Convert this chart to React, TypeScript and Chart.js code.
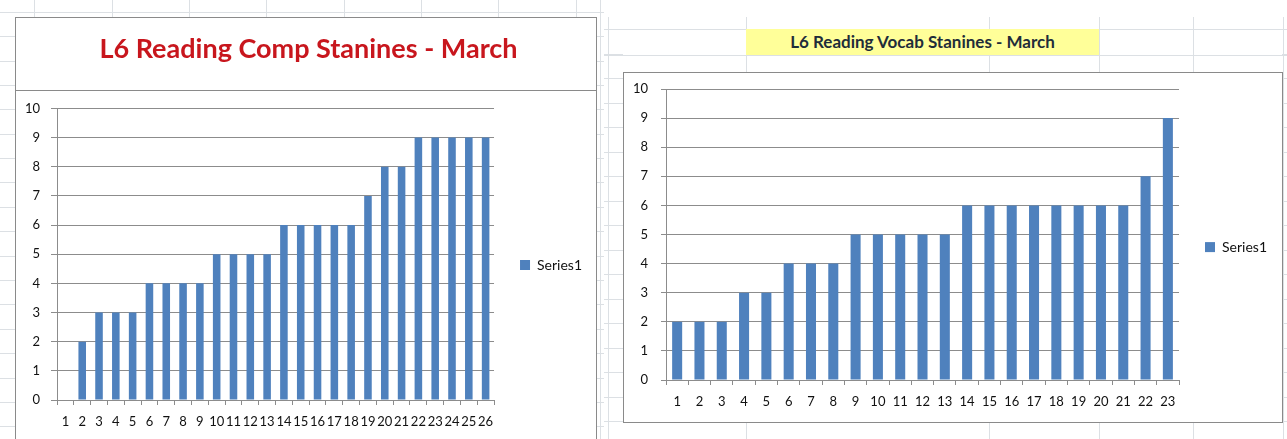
import React, { useEffect, useRef } from "react";
import { Chart, registerables } from "chart.js";

Chart.register(...registerables);

// ---------- data ----------
const compCategories = ["1", "2", "3", "4", "5", "6", "7", "8", "9", "10", "11", "12", "13", "14", "15", "16", "17", "18", "19", "20", "21", "22", "23", "24", "25", "26"];
const compStanines = [0, 2, 3, 3, 3, 4, 4, 4, 4, 5, 5, 5, 5, 6, 6, 6, 6, 6, 7, 8, 8, 9, 9, 9, 9, 9];

const vocabCategories = ["1", "2", "3", "4", "5", "6", "7", "8", "9", "10", "11", "12", "13", "14", "15", "16", "17", "18", "19", "20", "21", "22", "23"];
const vocabStanines = [2, 2, 2, 3, 3, 4, 4, 4, 5, 5, 5, 5, 5, 6, 6, 6, 6, 6, 6, 6, 6, 7, 9];

const yMin = 0;
const yMax = 10;
const yStep = 1;
const seriesLabel = "Series1";
const compTitle = "L6 Reading Comp Stanines - March";
const vocabTitle = "L6 Reading Vocab Stanines - March";

// ---------- styles ----------
const BAR = "#4F81BD";
const GRID = "#8C8C8C";
const TEXT = "#111111";
const FONT = "Lato, 'Open Sans', sans-serif";
const SHEET = "#DCE0E4";
const BOX = "#8A8A8A";

Chart.defaults.font.family = FONT;

type Lay = {
  pad: { left: number; right: number; top: number; bottom: number };
  yWidth: number;
  yTick: number;
  yPad: number;
  yLineHeight: number;
  xHeight: number;
  xPad: number;
  legendPad: number;
  legendShiftFont: number;
  title?: { text: string; size: number; color: string; top: number; bottom: number };
};

function buildConfig(labels: string[], values: number[], L: Lay): any {
  return {
    type: "bar",
    data: {
      labels,
      datasets: [
        {
          label: seriesLabel,
          data: values,
          backgroundColor: BAR,
          borderWidth: 0,
          barPercentage: 0.45,
          categoryPercentage: 1,
        },
      ],
    },
    options: {
      responsive: false,
      animation: false,
      layout: { padding: L.pad },
      plugins: {
        tooltip: { enabled: false },
        title: L.title
          ? {
              display: true,
              text: L.title.text,
              color: L.title.color,
              font: { family: FONT, size: L.title.size, weight: "bold" },
              padding: { top: L.title.top, bottom: L.title.bottom },
            }
          : { display: false },
        legend: {
          display: true,
          position: "right",
          align: "center",
          fullSize: false,
          title: {
            display: true,
            text: " ",
            padding: 0,
            font: { size: L.legendShiftFont },
          },
          labels: {
            boxWidth: 10,
            boxHeight: 10,
            padding: L.legendPad,
            color: TEXT,
            font: { family: FONT, size: 14 },
          },
        },
      },
      scales: {
        x: {
          grid: {
            offset: true,
            drawOnChartArea: false,
            color: GRID,
            tickLength: 5,
          },
          border: { color: GRID, width: 1 },
          ticks: {
            color: TEXT,
            font: { family: FONT, size: 13 },
            padding: L.xPad,
            autoSkip: false,
            maxRotation: 0,
            minRotation: 0,
          },
          afterFit: (s: any) => {
            s.height = L.xHeight;
          },
        },
        y: {
          min: yMin,
          max: yMax,
          grid: { color: GRID, tickLength: L.yTick },
          border: { color: GRID, width: 1 },
          ticks: {
            stepSize: yStep,
            color: TEXT,
            font: { family: FONT, size: 13, lineHeight: L.yLineHeight },
            padding: L.yPad,
          },
          afterFit: (s: any) => {
            s.width = L.yWidth;
          },
        },
      },
    },
  };
}

function BarChart(props: {
  labels: string[];
  values: number[];
  lay: Lay;
  left: number;
  top: number;
  width: number;
  height: number;
}) {
  const ref = useRef<HTMLCanvasElement>(null);
  useEffect(() => {
    const chart = new Chart(ref.current as HTMLCanvasElement, buildConfig(props.labels, props.values, props.lay));
    return () => chart.destroy();
  }, []);
  return (
    <canvas
      ref={ref}
      width={props.width}
      height={props.height}
      style={{
        position: "absolute",
        left: props.left,
        top: props.top,
        width: props.width,
        height: props.height,
      }}
    />
  );
}

// spreadsheet background lines (decoration only)
const leftRows = Array.from({ length: 18 }, (_, k) => Math.round(11.7 + 24.4 * k));
const rightRows = Array.from({ length: 18 }, (_, k) => Math.round(29 + 24.5 * k));
const leftTopCols = [34, 112, 189, 266, 344, 421, 498, 576];
const rightCols = [608, 746, 989, 1099, 1193, 1283];

function hLine(key: string, x: number, y: number, w: number) {
  return <div key={key} style={{ position: "absolute", left: x, top: y, width: w, height: 1, background: SHEET }} />;
}
function vLine(key: string, x: number, y: number, h: number) {
  return <div key={key} style={{ position: "absolute", left: x, top: y, width: 1, height: h, background: SHEET }} />;
}

export default function App() {
  const compLay: Lay = {
    pad: { left: 10, right: 5, top: 0, bottom: 9 },
    yWidth: 32,
    yTick: 6,
    yPad: 11,
    yLineHeight: 1.2,
    xHeight: 30,
    xPad: 9,
    legendPad: 26,
    legendShiftFont: 18,
    title: { text: compTitle, size: 27, color: "#C8161D", top: 16, bottom: 43 },
  };
  const vocabLay: Lay = {
    pad: { left: 10, right: 5, top: 17, bottom: 12 },
    yWidth: 33,
    yTick: 5,
    yPad: 13,
    yLineHeight: 0.5,
    xHeight: 30,
    xPad: 9,
    legendPad: 26,
    legendShiftFont: 21,
  };

  const bg: React.ReactNode[] = [];
  // left sheet
  leftRows.forEach((y, i) => bg.push(hLine("lr" + i, 0, y, 15)));
  leftRows.forEach((y, i) => bg.push(hLine("lg" + i, 597, y, 7)));
  bg.push(hLine("ltop", 0, 12, 600));
  leftTopCols.forEach((x, i) => bg.push(vLine("lc" + i, x, 0, 17)));
  bg.push(vLine("lsep", 600, 0, 439));
  // right sheet
  rightRows.forEach((y, i) => {
    bg.push(hLine("rr" + i, 604, y, 19));
    bg.push(hLine("rrr" + i, 1282, y, 5));
  });
  bg.push(hLine("rt1", 604, 29, 683));
  bg.push(hLine("rt2", 604, 55, 683));
  bg.push(hLine("rb", 604, 421, 683));
  rightCols.forEach((x, i) => bg.push(vLine("rc" + i, x, 17, 422)));

  return (
    <div
      style={{
        position: "fixed",
        left: 0,
        top: 0,
        width: 1287,
        height: 439,
        overflow: "hidden",
        background: "#FFFFFF",
      }}
    >
      {bg}

      {/* left chart object */}
      <div
        style={{
          position: "absolute",
          left: 15,
          top: 17,
          width: 582,
          height: 440,
          boxSizing: "border-box",
          border: `1px solid ${BOX}`,
          background: "#FFFFFF",
        }}
      />
      <BarChart labels={compCategories} values={compStanines} lay={compLay} left={15} top={17} width={582} height={422} />
      <div style={{ position: "absolute", left: 15, top: 90, width: 582, height: 1, background: BOX }} />

      {/* right title cell */}
      <div
        style={{
          position: "absolute",
          left: 746,
          top: 29,
          width: 353,
          height: 26,
          background: "#FFFF99",
          color: "#1F2D3A",
          fontFamily: FONT,
          fontWeight: 700,
          fontSize: 17,
          lineHeight: "26px",
          textAlign: "center",
        }}
      >
        {vocabTitle}
      </div>

      {/* right chart object */}
      <div
        style={{
          position: "absolute",
          left: 623,
          top: 72,
          width: 660,
          height: 351,
          boxSizing: "border-box",
          border: `1px solid ${BOX}`,
          background: "#FFFFFF",
        }}
      />
      <BarChart labels={vocabCategories} values={vocabStanines} lay={vocabLay} left={623} top={72} width={659} height={350} />
    </div>
  );
}
